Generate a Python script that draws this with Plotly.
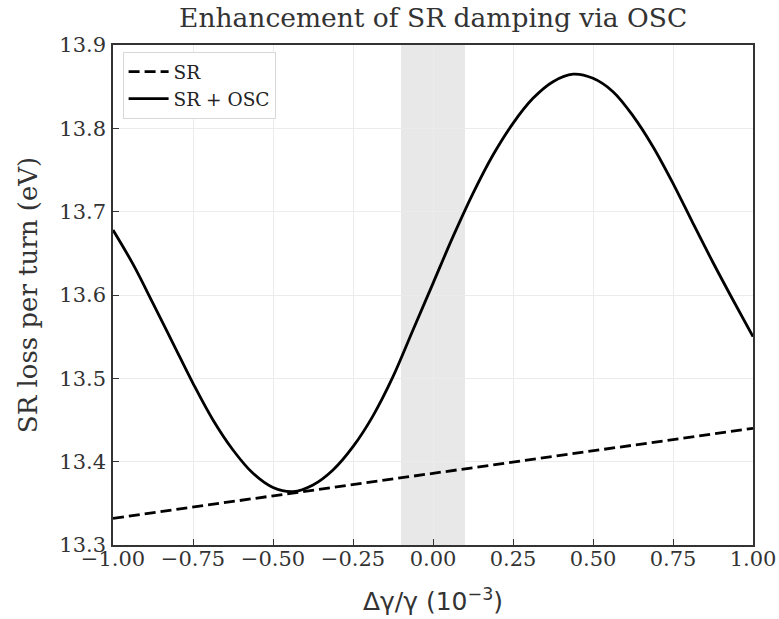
import plotly.graph_objects as go

x_sr = [-1.0, -0.5, 0.0, 0.5, 1.0]
y_sr = [13.332, 13.359, 13.386, 13.413, 13.440]

x_osc = [-1.0, -0.9375, -0.875, -0.8125, -0.75, -0.6875, -0.625, -0.5625, -0.5, -0.4375,
         -0.375, -0.3125, -0.25, -0.1875, -0.125, -0.0625, 0.0, 0.0625, 0.125, 0.1875,
         0.25, 0.3125, 0.375, 0.4375, 0.5, 0.5625, 0.625, 0.6875, 0.75, 0.8125, 0.875,
         0.9375, 1.0]
y_osc = [13.678, 13.637, 13.590, 13.542, 13.494, 13.450, 13.414, 13.386, 13.369, 13.364,
         13.372, 13.390, 13.418, 13.455, 13.502, 13.558, 13.614, 13.670, 13.722, 13.768,
         13.806, 13.836, 13.856, 13.865, 13.860, 13.844, 13.815, 13.778, 13.734, 13.686,
         13.639, 13.594, 13.550]

band = [-0.1, 0.1]
x_ticks = [-1.0, -0.75, -0.5, -0.25, 0.0, 0.25, 0.5, 0.75, 1.0]
x_ticktext = ["\u22121.00", "\u22120.75", "\u22120.50", "\u22120.25", "0.00", "0.25", "0.50", "0.75", "1.00"]
y_ticks = [13.3, 13.4, 13.5, 13.6, 13.7, 13.8, 13.9]

serif = "DejaVu Serif"
sans = "DejaVu Sans"

fig = go.Figure()
fig.add_vrect(x0=band[0], x1=band[1], fillcolor="#e8e8e8", line_width=0, layer="below")
fig.add_trace(go.Scatter(x=x_sr, y=y_sr, mode="lines", name="SR",
                         line=dict(color="black", width=2.8, dash="11px,5px")))
fig.add_trace(go.Scatter(x=x_osc, y=y_osc, mode="lines", name="SR + OSC",
                         line=dict(color="black", width=2.8, shape="spline", smoothing=1.0)))

axis_common = dict(showline=True, linecolor="#333333", linewidth=1.5, mirror=True,
                   ticks="inside", ticklen=6, tickwidth=1.2, tickcolor="#333333",
                   showgrid=True, gridcolor="#ececec", gridwidth=1, zeroline=False,
                   automargin=False,
                   tickfont=dict(family=serif, size=21, color="#333333"))

fig.update_layout(
    width=779, height=619,
    margin=dict(l=113, r=26, t=45, b=74),
    paper_bgcolor="white", plot_bgcolor="white",
    title=dict(text="Enhancement of SR damping via OSC", x=0.556, xanchor="center",
               y=0.971, yanchor="middle", font=dict(family=serif, size=26.5, color="#333333")),
    xaxis=dict(range=[-1, 1], tickvals=x_ticks, ticktext=x_ticktext, ticklabelstandoff=-6,
               title=dict(text="\u0394\u03b3/\u03b3 (10<sup>\u22123</sup>)",
                          font=dict(family=sans, size=25, color="#333333"), standoff=23),
               **axis_common),
    yaxis=dict(range=[13.3, 13.9], tickvals=y_ticks, tickformat=".1f", ticklabelstandoff=1,
               title=dict(text="SR loss per turn (eV)",
                          font=dict(family=serif, size=26, color="#333333"), standoff=14),
               **axis_common),
    legend=dict(x=0.015, y=0.986, xanchor="left", yanchor="top", itemwidth=40,
                bgcolor="white", bordercolor="#d8d8d8", borderwidth=1,
                font=dict(family=serif, size=18.5, color="#222222")),
    showlegend=True,
)

fig.write_html("out.html")
